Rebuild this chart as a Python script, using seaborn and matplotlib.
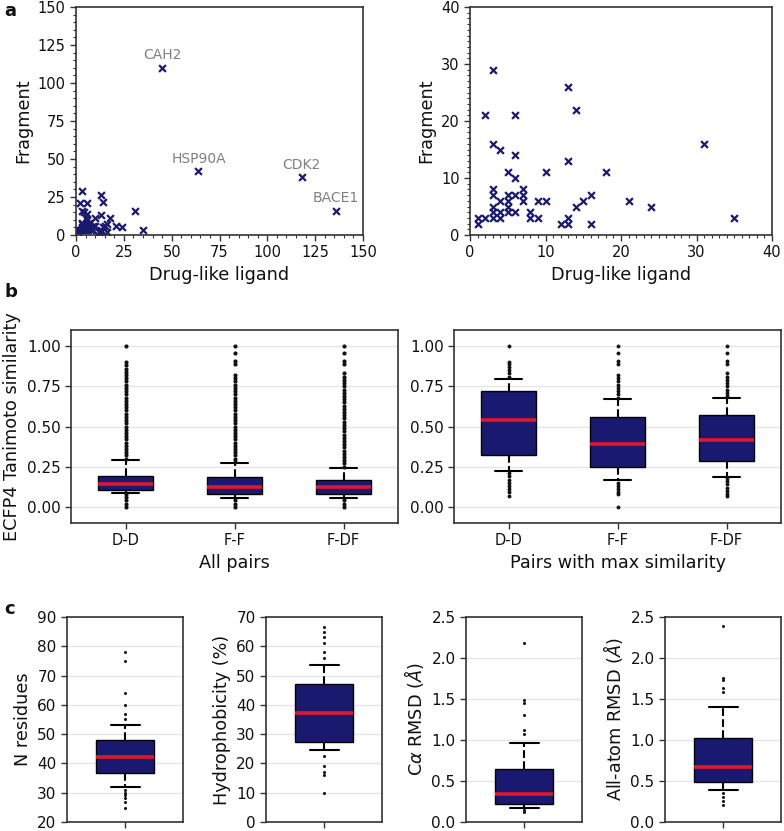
import matplotlib
matplotlib.use("Agg")
import matplotlib.pyplot as plt
from matplotlib.ticker import MultipleLocator, FormatStrFormatter
import seaborn as sns

sns.set_style("ticks")
plt.rcParams["font.family"] = ["DejaVu Sans"]
plt.rcParams["text.color"] = "#111111"
plt.rcParams["axes.labelcolor"] = "#111111"
plt.rcParams["xtick.color"] = "#111111"
plt.rcParams["ytick.color"] = "#111111"

NAVY = "#191970"
RED = "#e0162b"
FRAME = "#333333"

# ---- panel a: number of structures per target ----
drug = [3, 2, 6, 13, 14, 3, 4, 6, 13, 5, 6, 10, 18, 31,
        3, 3, 3, 3, 3, 4, 4, 4, 5, 5, 5, 5, 6, 6, 7, 7, 7, 8, 8, 9, 9, 10,
        12, 13, 13, 14, 15, 16, 16, 21, 24, 35, 1, 1, 2]
frag = [29, 21, 21, 26, 22, 16, 15, 14, 13, 11, 10, 11, 11, 16,
        8, 7, 5, 4, 3, 6, 4, 3, 7, 6, 5, 4, 7, 4, 8, 7, 6, 4, 3, 6, 3, 6,
        2, 3, 2, 5, 6, 7, 2, 6, 5, 3, 3, 2, 3]
big_names = ["CAH2", "HSP90A", "CDK2", "BACE1"]
big_drug = [45, 64, 118, 136]
big_frag = [110, 42, 38, 16]

# ---- panel b: ECFP4 Tanimoto similarity ----
pair_types = ["D-D", "F-F", "F-DF"]

all_q1 = [0.108, 0.081, 0.081]
all_med = [0.141, 0.126, 0.124]
all_q3 = [0.190, 0.186, 0.170]
all_lo = [0.089, 0.056, 0.056]
all_hi = [0.294, 0.271, 0.244]
all_fliers = [
    [0.30, 0.32, 0.34, 0.36, 0.38, 0.40, 0.42, 0.44, 0.46, 0.48, 0.50,
     0.52, 0.54, 0.56, 0.58, 0.60, 0.62, 0.64, 0.66, 0.68, 0.70, 0.72,
     0.74, 0.76, 0.78, 0.80, 0.82, 0.84, 0.86, 0.88, 0.90, 1.00,
     0.00, 0.02, 0.04, 0.06, 0.08],
    [0.28, 0.30, 0.32, 0.34, 0.36, 0.38, 0.40, 0.42, 0.44, 0.46, 0.48,
     0.50, 0.52, 0.54, 0.56, 0.58, 0.60, 0.62, 0.64, 0.66, 0.68, 0.70,
     0.72, 0.74, 0.76, 0.78, 0.80, 0.82, 0.89, 0.91, 0.96, 1.00,
     0.00, 0.02, 0.04],
    [0.25, 0.27, 0.29, 0.31, 0.33, 0.35, 0.37, 0.39, 0.41, 0.43, 0.45,
     0.47, 0.49, 0.51, 0.53, 0.55, 0.57, 0.59, 0.61, 0.63, 0.65, 0.67,
     0.69, 0.71, 0.73, 0.75, 0.77, 0.79, 0.81, 0.83, 0.89, 0.91, 0.96,
     1.00, 0.00, 0.02, 0.04],
]

max_q1 = [0.321, 0.248, 0.284]
max_med = [0.542, 0.389, 0.414]
max_q3 = [0.718, 0.559, 0.571]
max_lo = [0.222, 0.166, 0.188]
max_hi = [0.797, 0.671, 0.679]
max_fliers = [
    [0.81, 0.83, 0.85, 0.87, 0.89, 0.90, 1.00,
     0.21, 0.19, 0.17, 0.15, 0.13, 0.11, 0.09, 0.07],
    [0.68, 0.70, 0.72, 0.74, 0.76, 0.78, 0.80, 0.82, 0.89, 0.91, 0.96,
     1.00, 0.15, 0.13, 0.11, 0.09, 0.08, 0.00],
    [0.69, 0.71, 0.73, 0.75, 0.77, 0.79, 0.81, 0.83, 0.89, 0.91, 0.96,
     1.00, 0.18, 0.16, 0.14, 0.12, 0.10, 0.08, 0.07],
]

# ---- panel c: pocket properties ----
c_labels = ["N residues", "Hydrophobicity (%)",
            r"C$\alpha$ RMSD ($\AA$)", r"All-atom RMSD ($\AA$)"]
c_q1 = [36.9, 27.4, 0.222, 0.492]
c_med = [42.1, 37.3, 0.341, 0.670]
c_q3 = [48.0, 47.1, 0.645, 1.025]
c_lo = [32.0, 24.5, 0.175, 0.392]
c_hi = [53.0, 53.5, 0.962, 1.402]
c_fliers = [
    [77.9, 75.0, 63.9, 60.0, 56.9, 55.1, 31.0, 30.0, 29.1, 28.2, 26.9, 24.9],
    [66.7, 65.0, 63.3, 61.2, 58.2, 56.1, 22.6, 19.1, 17.0, 16.0, 9.9],
    [2.18, 1.49, 1.45, 1.30, 1.12, 1.07, 0.146, 0.12],
    [2.39, 1.76, 1.73, 1.64, 1.59, 0.35, 0.30, 0.256, 0.207],
]
c_ylim = [(20, 90), (0, 70), (0, 2.5), (0, 2.5)]
c_step = [10, 10, 0.5, 0.5]
c_fmt = ["%d", "%d", "%.1f", "%.1f"]


def style_axes(ax):
    for s in ax.spines.values():
        s.set_color(FRAME)
        s.set_linewidth(1.2)
    ax.tick_params(which="major", length=4, width=1, color=FRAME)
    ax.tick_params(which="minor", length=2, width=0.8, color=FRAME)


def draw_boxes(ax, q1, med, q3, lo, hi, fliers, positions, flier_size=2.2):
    stats = [dict(q1=a, med=m, q3=b, whislo=l, whishi=h, fliers=f)
             for a, m, b, l, h, f in zip(q1, med, q3, lo, hi, fliers)]
    ax.bxp(stats, positions=positions, widths=0.5, patch_artist=True,
           manage_ticks=False,
           boxprops=dict(facecolor=NAVY, edgecolor="black", linewidth=1),
           whiskerprops=dict(color="black", linestyle="--", linewidth=1.5),
           capprops=dict(color="black", linewidth=1.5),
           medianprops=dict(color=RED, linewidth=2.6),
           flierprops=dict(marker="o", markersize=flier_size,
                           markerfacecolor="#111111", markeredgecolor="none"))
    ax.set_axisbelow(True)
    ax.yaxis.grid(True, color="#e6e6e6", linewidth=1)


fig = plt.figure(figsize=(7.84, 8.31), dpi=100)
W, H = 784.0, 831.0


def add_ax(left, top, right, bottom):
    return fig.add_axes([left / W, 1 - bottom / H, (right - left) / W, (bottom - top) / H])


# panel a
ax_a1 = add_ax(76, 7, 363, 235)
ax_a2 = add_ax(470, 7, 772, 235)
for ax, lim, major, minor in [(ax_a1, 150, 25, 5), (ax_a2, 40, 10, 1)]:
    sns.scatterplot(x=drug + big_drug, y=frag + big_frag, ax=ax, marker="x",
                    color=NAVY, s=24, linewidth=1.6, legend=False)
    ax.set_xlim(0, lim)
    ax.set_ylim(0, lim)
    ax.xaxis.set_major_locator(MultipleLocator(major))
    ax.yaxis.set_major_locator(MultipleLocator(major))
    ax.xaxis.set_minor_locator(MultipleLocator(minor))
    ax.yaxis.set_minor_locator(MultipleLocator(minor))
    ax.tick_params(labelsize=10.5)
    ax.set_xlabel("Drug-like ligand", fontsize=12.7)
    ax.set_ylabel("Fragment", fontsize=12.7)
    style_axes(ax)
for name, x, y in zip(big_names, big_drug, big_frag):
    ax_a1.annotate(name, (x, y), xytext=(0, 4), textcoords="offset points",
                   ha="center", va="bottom", color="#808080", fontsize=10)

# panel b
ax_b1 = add_ax(71, 330, 398, 523)
ax_b2 = add_ax(454, 330, 781, 523)
draw_boxes(ax_b1, all_q1, all_med, all_q3, all_lo, all_hi, all_fliers, [0, 1, 2], 3.0)
draw_boxes(ax_b2, max_q1, max_med, max_q3, max_lo, max_hi, max_fliers, [0, 1, 2], 2.8)
for ax, xl in [(ax_b1, "All pairs"), (ax_b2, "Pairs with max similarity")]:
    ax.set_xlim(-0.5, 2.5)
    ax.set_ylim(-0.1, 1.1)
    ax.set_xticks([0, 1, 2])
    ax.set_xticklabels(pair_types, fontsize=10.5)
    ax.set_yticks([0, 0.25, 0.5, 0.75, 1.0])
    ax.yaxis.set_major_formatter(FormatStrFormatter("%.2f"))
    ax.tick_params(axis="y", labelsize=11)
    ax.set_xlabel(xl, fontsize=12.7)
    style_axes(ax)
ax_b1.set_ylabel("ECFP4 Tanimoto similarity", fontsize=12.7)

# panel c
c_lefts = [67, 266, 466, 665]
for i, left in enumerate(c_lefts):
    ax = add_ax(left, 617, left + 116, 822)
    draw_boxes(ax, [c_q1[i]], [c_med[i]], [c_q3[i]], [c_lo[i]], [c_hi[i]],
               [c_fliers[i]], [0])
    ax.set_xlim(-0.5, 0.5)
    ax.set_xticks([0])
    ax.set_xticklabels([""])
    ax.set_ylim(*c_ylim[i])
    ax.yaxis.set_major_locator(MultipleLocator(c_step[i]))
    ax.yaxis.set_major_formatter(FormatStrFormatter(c_fmt[i]))
    ax.tick_params(axis="y", labelsize=11)
    ax.set_ylabel(c_labels[i], fontsize=12.7)
    style_axes(ax)

for letter, y in [("a", 2), ("b", 283), ("c", 600)]:
    fig.text(4 / W, 1 - y / H, letter, fontsize=13, fontweight="bold", va="top")

fig.savefig("out.png", dpi=100)
